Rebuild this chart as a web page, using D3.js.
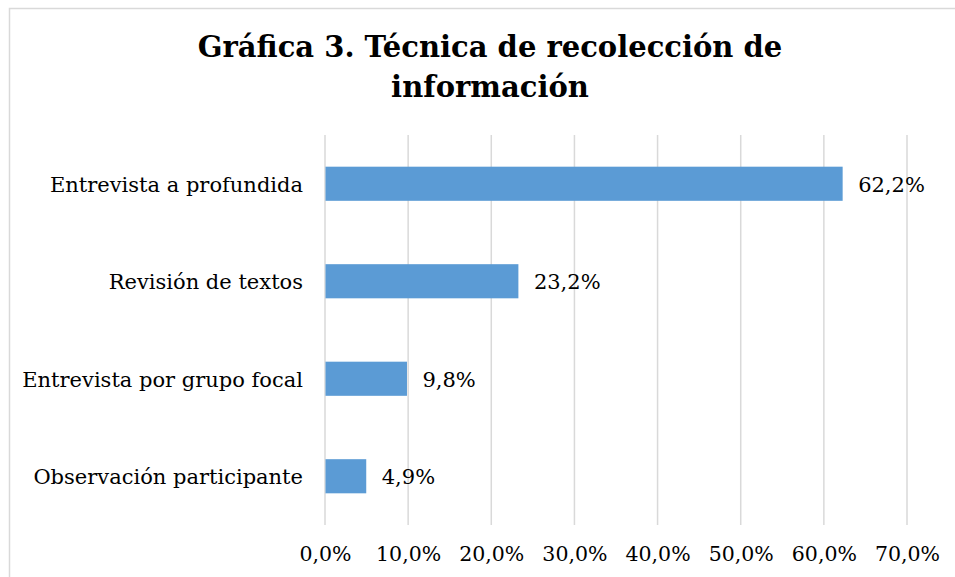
<!DOCTYPE html>
<html>
<head>
<meta charset="utf-8">
<script src="https://cdn.jsdelivr.net/npm/d3@7"></script>
<style>
  body { margin: 0; background: #fff; }
  svg { display: block; font-family: 'DejaVu Serif', serif; }
  .cat-label { font-size: 21px; fill: #000; }
  .value-label { font-size: 21px; fill: #000; }
  .tick-label { font-size: 20.5px; fill: #000; }
  .title { font-size: 29px; font-weight: bold; fill: #000; }
</style>
</head>
<body>
<svg id="chart"></svg>
<script>
// chart values
const categories = ['Entrevista a profundida', 'Revisión de textos', 'Entrevista por grupo focal', 'Observación participante'];
const values = [0.622, 0.232, 0.098, 0.049];
const xTicks = [0, 0.1, 0.2, 0.3, 0.4, 0.5, 0.6, 0.7];
const titleLines = ['Gráfica 3. Técnica de recolección de', 'información'];

const width = 955, height = 577;
const margin = { top: 135, right: 48, bottom: 52, left: 325 };

const svg = d3.select('#chart')
  .attr('width', width)
  .attr('height', height);

// light frame round the chart area
svg.append('rect')
  .attr('x', 9.5).attr('y', 8.5)
  .attr('width', width + 20).attr('height', height + 20)
  .attr('fill', 'none')
  .attr('stroke', '#d9d9d9')
  .attr('stroke-width', 1.5);

const es = d3.formatLocale({ decimal: ',', thousands: '.', grouping: [3], currency: ['', '€'] });
const pct = es.format('.1%');

const x = d3.scaleLinear()
  .domain([0, 0.7])
  .range([margin.left, width - margin.right]);

const y = d3.scaleBand()
  .domain(categories)
  .range([margin.top, height - margin.bottom])
  .paddingInner(0.65)
  .paddingOuter(0.325);

// gridlines
svg.append('g')
  .selectAll('line')
  .data(xTicks)
  .join('line')
  .attr('x1', d => x(d)).attr('x2', d => x(d))
  .attr('y1', margin.top).attr('y2', height - margin.bottom)
  .attr('stroke', '#d9d9d9')
  .attr('stroke-width', 1.5);

// bars
svg.append('g')
  .selectAll('rect')
  .data(values)
  .join('rect')
  .attr('x', x(0) + 0.5)
  .attr('y', (d, i) => y(categories[i]))
  .attr('width', d => x(d) - x(0))
  .attr('height', y.bandwidth())
  .attr('fill', '#5b9bd5');

// value labels
svg.append('g')
  .selectAll('text')
  .data(values)
  .join('text')
  .attr('class', 'value-label')
  .attr('x', d => x(d) + 16)
  .attr('y', (d, i) => y(categories[i]) + y.bandwidth() / 2 + 8)
  .text(d => pct(d));

// category axis
const yAxis = svg.append('g')
  .attr('transform', `translate(${margin.left},0)`)
  .call(d3.axisLeft(y).tickSize(0).tickPadding(22));
yAxis.select('.domain').remove();
yAxis.selectAll('text')
  .attr('class', 'cat-label')
  .attr('dy', null)
  .attr('y', 8);
yAxis.attr('font-family', null).attr('font-size', null);

// value axis
const xAxis = svg.append('g')
  .attr('transform', `translate(0,${height - margin.bottom})`)
  .call(d3.axisBottom(x).tickValues(xTicks).tickFormat(pct).tickSize(0).tickPadding(0));
xAxis.select('.domain').remove();
xAxis.selectAll('text')
  .attr('class', 'tick-label')
  .attr('dy', null)
  .attr('y', 36);
xAxis.attr('font-family', null).attr('font-size', null);

// title
svg.append('text')
  .attr('class', 'title')
  .attr('text-anchor', 'middle')
  .selectAll('tspan')
  .data(titleLines)
  .join('tspan')
  .attr('x', 490)
  .attr('y', (d, i) => 57 + i * 40)
  .text(d => d);
</script>
</body>
</html>
